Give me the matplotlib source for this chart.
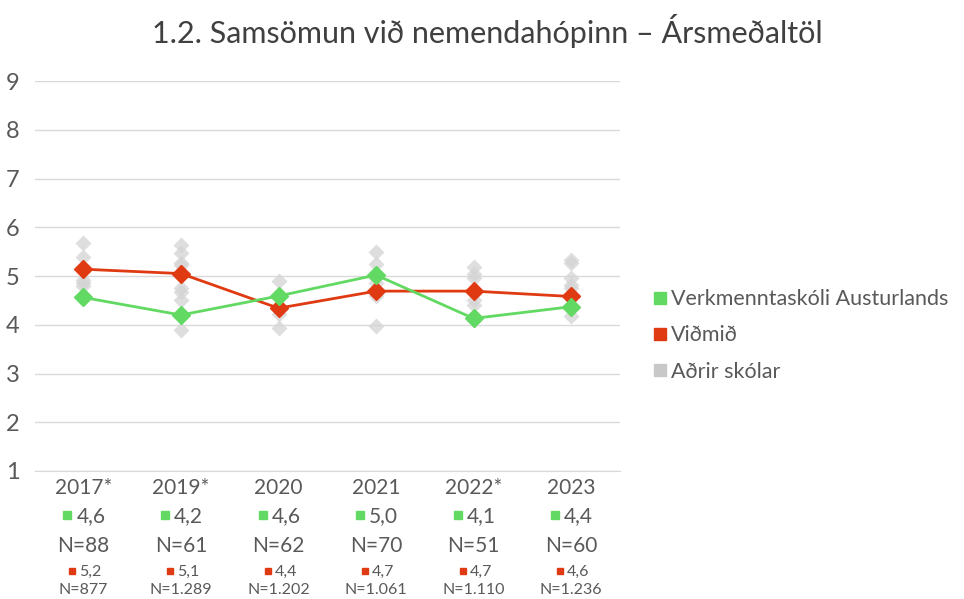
import matplotlib.pyplot as plt
from matplotlib.transforms import offset_copy
from matplotlib.lines import Line2D

plt.rcParams['font.family'] = ['Lato', 'DejaVu Sans']

years = ["2017*", "2019*", "2020", "2021", "2022*", "2023"]
school = [4.56, 4.20, 4.59, 5.02, 4.13, 4.37]
benchmark = [5.14, 5.05, 4.34, 4.69, 4.69, 4.58]
school_lbl = ["4,6", "4,2", "4,6", "5,0", "4,1", "4,4"]
school_n = ["N=88", "N=61", "N=62", "N=70", "N=51", "N=60"]
bench_lbl = ["5,2", "5,1", "4,4", "4,7", "4,7", "4,6"]
bench_n = ["N=877", "N=1.289", "N=1.202", "N=1.061", "N=1.110", "N=1.236"]
others = [
    [5.68, 5.38, 4.92, 4.85, 4.80, 4.55],
    [5.64, 5.47, 5.26, 5.23, 4.75, 4.68, 4.51, 3.89],
    [4.90, 4.23, 3.93],
    [5.49, 5.25, 4.95, 4.85, 4.58, 3.97],
    [5.19, 5.05, 4.96, 4.51, 4.41, 4.10],
    [5.33, 5.26, 4.95, 4.82, 4.75, 4.17],
]

GREEN = "#62d962"
RED = "#e03a12"
GRAY = "#d4d4d4"
TXT = "#595959"

fig = plt.figure(figsize=(9.64, 5.99), dpi=100)
ax = fig.add_axes([0.036, 0.2137, 0.607, 0.651])

x = list(range(len(years)))
for i, vals in enumerate(others):
    ax.plot([i] * len(vals), vals, "D", color=GRAY, ms=8, alpha=0.75,
            mec="none", clip_on=False, zorder=2)
ax.plot(x, school, "-D", color=GREEN, lw=2, ms=9, clip_on=False, zorder=4)
ax.plot(x, benchmark, "-D", color=RED, lw=2, ms=9, clip_on=False, zorder=3)

ax.set_xlim(-0.5, 5.5)
ax.set_ylim(1, 9)
ax.set_yticks(range(1, 10))
ax.grid(axis="y", color="#d9d9d9", lw=1)
ax.set_axisbelow(True)
for s in ["top", "right", "left"]:
    ax.spines[s].set_visible(False)
ax.spines["bottom"].set_color("#d9d9d9")
ax.tick_params(axis="y", length=0, labelsize=17, labelcolor=TXT, pad=11)
ax.tick_params(axis="x", length=0, labelsize=15, labelcolor=TXT, pad=5)
ax.set_xticks(x)
ax.set_xticklabels(years)

tr = ax.get_xaxis_transform()
for i in x:
    ax.text(i, -0.115, school_lbl[i], transform=offset_copy(tr, fig, x=-7, units="dots"),
            ha="left", va="center", fontsize=15, color=TXT)
    ax.plot([i], [-0.112], "s", color=GREEN, ms=6,
            transform=offset_copy(tr, fig, x=-16, units="dots"), clip_on=False)
    ax.text(i, -0.192, school_n[i], transform=tr, ha="center", va="center",
            fontsize=15, color=TXT)
    ax.text(i, -0.259, bench_lbl[i], transform=offset_copy(tr, fig, x=-4, units="dots"),
            ha="left", va="center", fontsize=11.5, color=TXT)
    ax.plot([i], [-0.257], "s", color=RED, ms=5,
            transform=offset_copy(tr, fig, x=-11, units="dots"), clip_on=False)
    ax.text(i, -0.306, bench_n[i], transform=tr, ha="center", va="center",
            fontsize=11.5, color=TXT)

fig.text(0.506, 0.948, "1.2. Samsömun við nemendahópinn – Ársmeðaltöl",
         ha="center", va="center", fontsize=22, color="#404040")

handles = [
    Line2D([], [], ls="none", marker="s", color=GREEN, ms=8),
    Line2D([], [], ls="none", marker="s", color=RED, ms=8),
    Line2D([], [], ls="none", marker="s", color="#c8c8c8", ms=8),
]
fig.legend(handles, ["Verkmenntaskóli Austurlands", "Viðmið", "Aðrir skólar"],
           loc="center left", bbox_to_anchor=(0.66, 0.44), frameon=False,
           fontsize=15.5, labelcolor=TXT, handletextpad=0.1, handlelength=0.8,
           labelspacing=0.75, borderpad=0.2)

fig.savefig("out.png", dpi=100)
